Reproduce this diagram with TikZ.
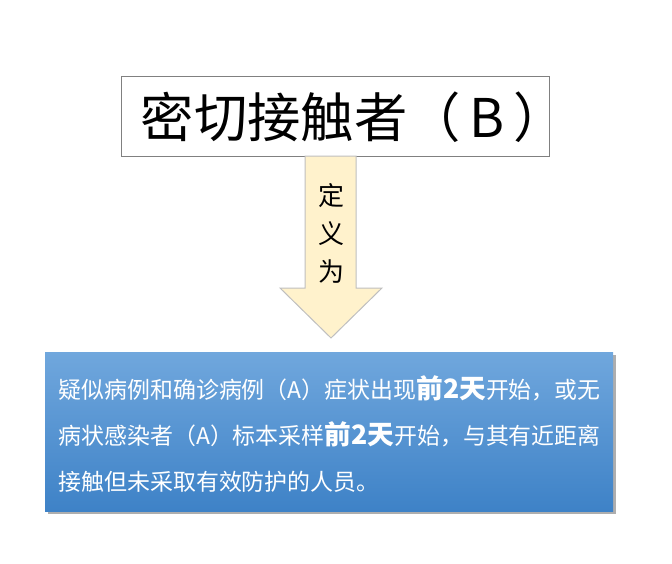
\documentclass[tikz,border=0pt]{standalone}
\usepackage{fontspec}
\setmainfont{Noto Sans CJK SC}
\newfontfamily\cjk{Noto Sans CJK SC}

\newcommand{\qiantian}[1]{{\fontsize{20}{34.5}\selectfont\bfseries #1}}

\tikzset{every picture/.style={line width=0.75pt}}

\begin{document}
\begin{tikzpicture}[x=0.75pt,y=0.75pt,yscale=-1,xscale=1]
\path[use as bounding box] (0,0) rectangle (672,564); %set diagram size 672 x 564

%Shape: Rectangle [title box]
\draw[color={rgb,255:red,128;green,128;blue,128}, fill=white] (121,76) rectangle (549,156);
% Text Node
\draw (354,117) node (title) [inner sep=0.75pt] {\cjk\fontsize{40}{48}\selectfont 密切接触者（\,B\,）};

%Shape: Down Arrow
\draw[color={rgb,255:red,191;green,191;blue,191}, fill={rgb,255:red,255;green,242;blue,204}]
  (305,156) -- (356,156) -- (356,288) -- (382,288) -- (331,338) -- (280,288) -- (305,288) -- cycle;
% Text Node
\draw (331,233) node (dingyi) [inner sep=0.75pt, align=center, font={\cjk\fontsize{19.5}{28.5}\selectfont}] {定\\义\\为};

%Shape: Rectangle [shadow]
\fill[color={rgb,255:red,120;green,120;blue,120}, opacity=0.6] (48,355) rectangle (616,514);
%Shape: Rectangle [definition box]
\shade[top color={rgb,255:red,112;green,167;blue,221}, bottom color={rgb,255:red,62;green,130;blue,199}] (45,352) rectangle (613,511);
% Text Node
\draw (57,434) node (defn) [anchor=west, inner sep=0.75pt, align=left, text=white, font={\cjk\fontsize{17.2}{34.5}\selectfont}] {疑似病例和确诊病例（A）症状出现\qiantian{前2天}开始，或无\\
病状感染者（A）标本采样\qiantian{前2天}开始，与其有近距离\\
接触但未采取有效防护的人员。};

\end{tikzpicture}
\end{document}
